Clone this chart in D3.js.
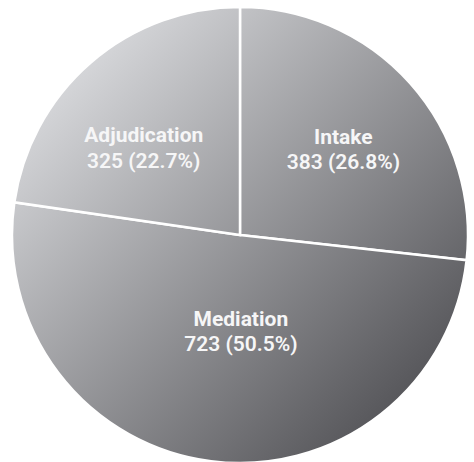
<!DOCTYPE html>
<html>
<head>
<meta charset="utf-8">
<script src="https://cdn.jsdelivr.net/npm/d3@7/dist/d3.min.js"></script>
<style>
  html, body { margin: 0; padding: 0; background: #ffffff; }
  svg { display: block; }
</style>
</head>
<body>
<script>
// Case counts by stage
const categories = ["Intake", "Mediation", "Adjudication"];
const values = [383, 723, 325];
const percentLabels = ["26.8%", "50.5%", "22.7%"];

const width = 474, height = 462;
const cx = 240, cy = 235, radius = 228;

const svg = d3.select("body").append("svg")
  .attr("width", width)
  .attr("height", height);

// One diagonal grey gradient shared by all slices, light top-left to dark bottom-right
const g0 = radius / Math.SQRT2;
const grad = svg.append("defs").append("linearGradient")
  .attr("id", "pieShade")
  .attr("gradientUnits", "userSpaceOnUse")
  .attr("x1", -g0).attr("y1", -g0)
  .attr("x2", g0).attr("y2", g0);
grad.append("stop").attr("offset", 0).attr("stop-color", "#d4d5d8");
grad.append("stop").attr("offset", 1).attr("stop-color", "#58585c");

const data = categories.map((c, i) => ({ name: c, value: values[i], pct: percentLabels[i] }));

const pie = d3.pie().sort(null).value(d => d.value);
const arcs = pie(data);
const arc = d3.arc().innerRadius(0).outerRadius(radius);

const g = svg.append("g").attr("transform", `translate(${cx},${cy})`);

g.selectAll("path.slice")
  .data(arcs)
  .join("path")
  .attr("class", "slice")
  .attr("d", arc)
  .attr("fill", "url(#pieShade)")
  .attr("stroke", "#ffffff")
  .attr("stroke-width", 2.5)
  .attr("stroke-linejoin", "miter");

// Labels start at the area centroid of each sector, then get a small
// hand-tuned nudge so they sit comfortably inside their slice
function sectorCentroid(d) {
  const half = (d.endAngle - d.startAngle) / 2;
  const mid = (d.startAngle + d.endAngle) / 2;
  const r = (2 * radius * Math.sin(half)) / (3 * half);
  return [r * Math.sin(mid), -r * Math.cos(mid)];
}
const labelNudge = {
  "Intake": [3, 2],
  "Mediation": [13, -1],
  "Adjudication": [-5, 16]
};

const labels = g.selectAll("text.label")
  .data(arcs)
  .join("text")
  .attr("class", "label")
  .attr("text-anchor", "middle")
  .attr("font-family", "Roboto, 'Noto Sans', sans-serif")
  .attr("font-size", 21)
  .attr("fill", "#f6f6f7")
  .attr("transform", d => {
    const [x, y] = sectorCentroid(d);
    const [nx, ny] = labelNudge[d.data.name] || [0, 0];
    return `translate(${x + nx},${y + ny})`;
  });

labels.append("tspan")
  .attr("x", 0)
  .attr("dy", "-0.15em")
  .attr("font-weight", 700)
  .text(d => d.data.name);

labels.append("tspan")
  .attr("x", 0)
  .attr("dy", "1.2em")
  .attr("font-weight", 600)
  .text(d => `${d.data.value} (${d.data.pct})`);
</script>
</body>
</html>
